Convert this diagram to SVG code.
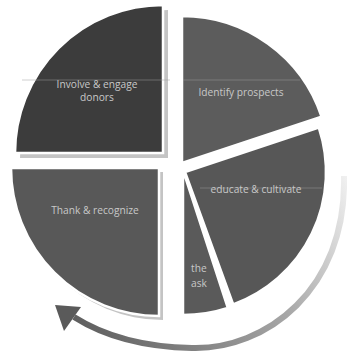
<svg xmlns="http://www.w3.org/2000/svg" width="347" height="360" viewBox="0 0 347 360">
<style>
.shadow{fill:#c4c4c4}
.piece{stroke:#ffffff;stroke-width:2.5}
.lbl{font-family:"Open Sans","Liberation Sans",sans-serif;font-size:10.2px;fill:#c8c8c8}
.faint{stroke:#a0a0a0;stroke-width:0.8;opacity:0.6}
</style>
<defs>
<linearGradient id="arrowGrad" gradientUnits="userSpaceOnUse" x1="345" y1="175" x2="60" y2="320">
<stop offset="0" stop-color="#f0f0f0"/>
<stop offset="0.35" stop-color="#a8a8a8"/>
<stop offset="1" stop-color="#5a5a5a"/>
</linearGradient>
</defs>
<rect width="347" height="360" fill="#ffffff"/>
<g id="connectors">
<path d="M344 176 C347 290 265 350 192 348 C142 347 104 336 74 317" fill="none" stroke="url(#arrowGrad)" stroke-width="6"/>
<polygon points="55,305 81,307 64,331" fill="#5a5a5a"/>
</g>
<g id="involve">
<path class="shadow" d="M168,158 L20,158 A148,148 0 0 1 168,10 Z"/>
<path class="piece" fill="#3c3c3c" d="M163,153 L15,153 A148,148 0 0 1 163,5 Z"/>
<line class="faint" x1="22" y1="80" x2="170" y2="80"/>
<text class="lbl" x="97" y="88" text-anchor="middle">Involve &amp; engage</text>
<text class="lbl" x="97" y="101" text-anchor="middle">donors</text>
</g>
<g id="thank">
<path class="shadow" d="M163,172 L163,320 A148,148 0 0 1 15,172 Z"/>
<path class="piece" fill="#585858" d="M159,168 L159,316 A148,148 0 0 1 11,168 Z"/>
<text class="lbl" x="95" y="214" text-anchor="middle">Thank &amp; recognize</text>
</g>
<g id="identify">
<path class="piece" fill="#5c5c5c" d="M182,163 L182,16 A147,147 0 0 1 321.5,116.6 Z"/>
<line class="faint" x1="183" y1="80" x2="300" y2="80"/>
<text class="lbl" x="241" y="96" text-anchor="middle">Identify prospects</text>
</g>
<g id="educate">
<path class="piece" fill="#575757" d="M185,172 L318.8,127.5 A141,141 0 0 1 233.2,304.5 Z"/>
<line class="faint" x1="200" y1="188" x2="322" y2="188"/>
<text class="lbl" x="256" y="193" text-anchor="middle">educate &amp; cultivate</text>
</g>
<g id="the-ask">
<path class="piece" fill="#5a5a5a" d="M183,170 L227.8,307.9 A145,145 0 0 1 183,315 Z"/>
<text class="lbl" x="191" y="272">the</text>
<text class="lbl" x="191" y="287">ask</text>
</g>
</svg>
